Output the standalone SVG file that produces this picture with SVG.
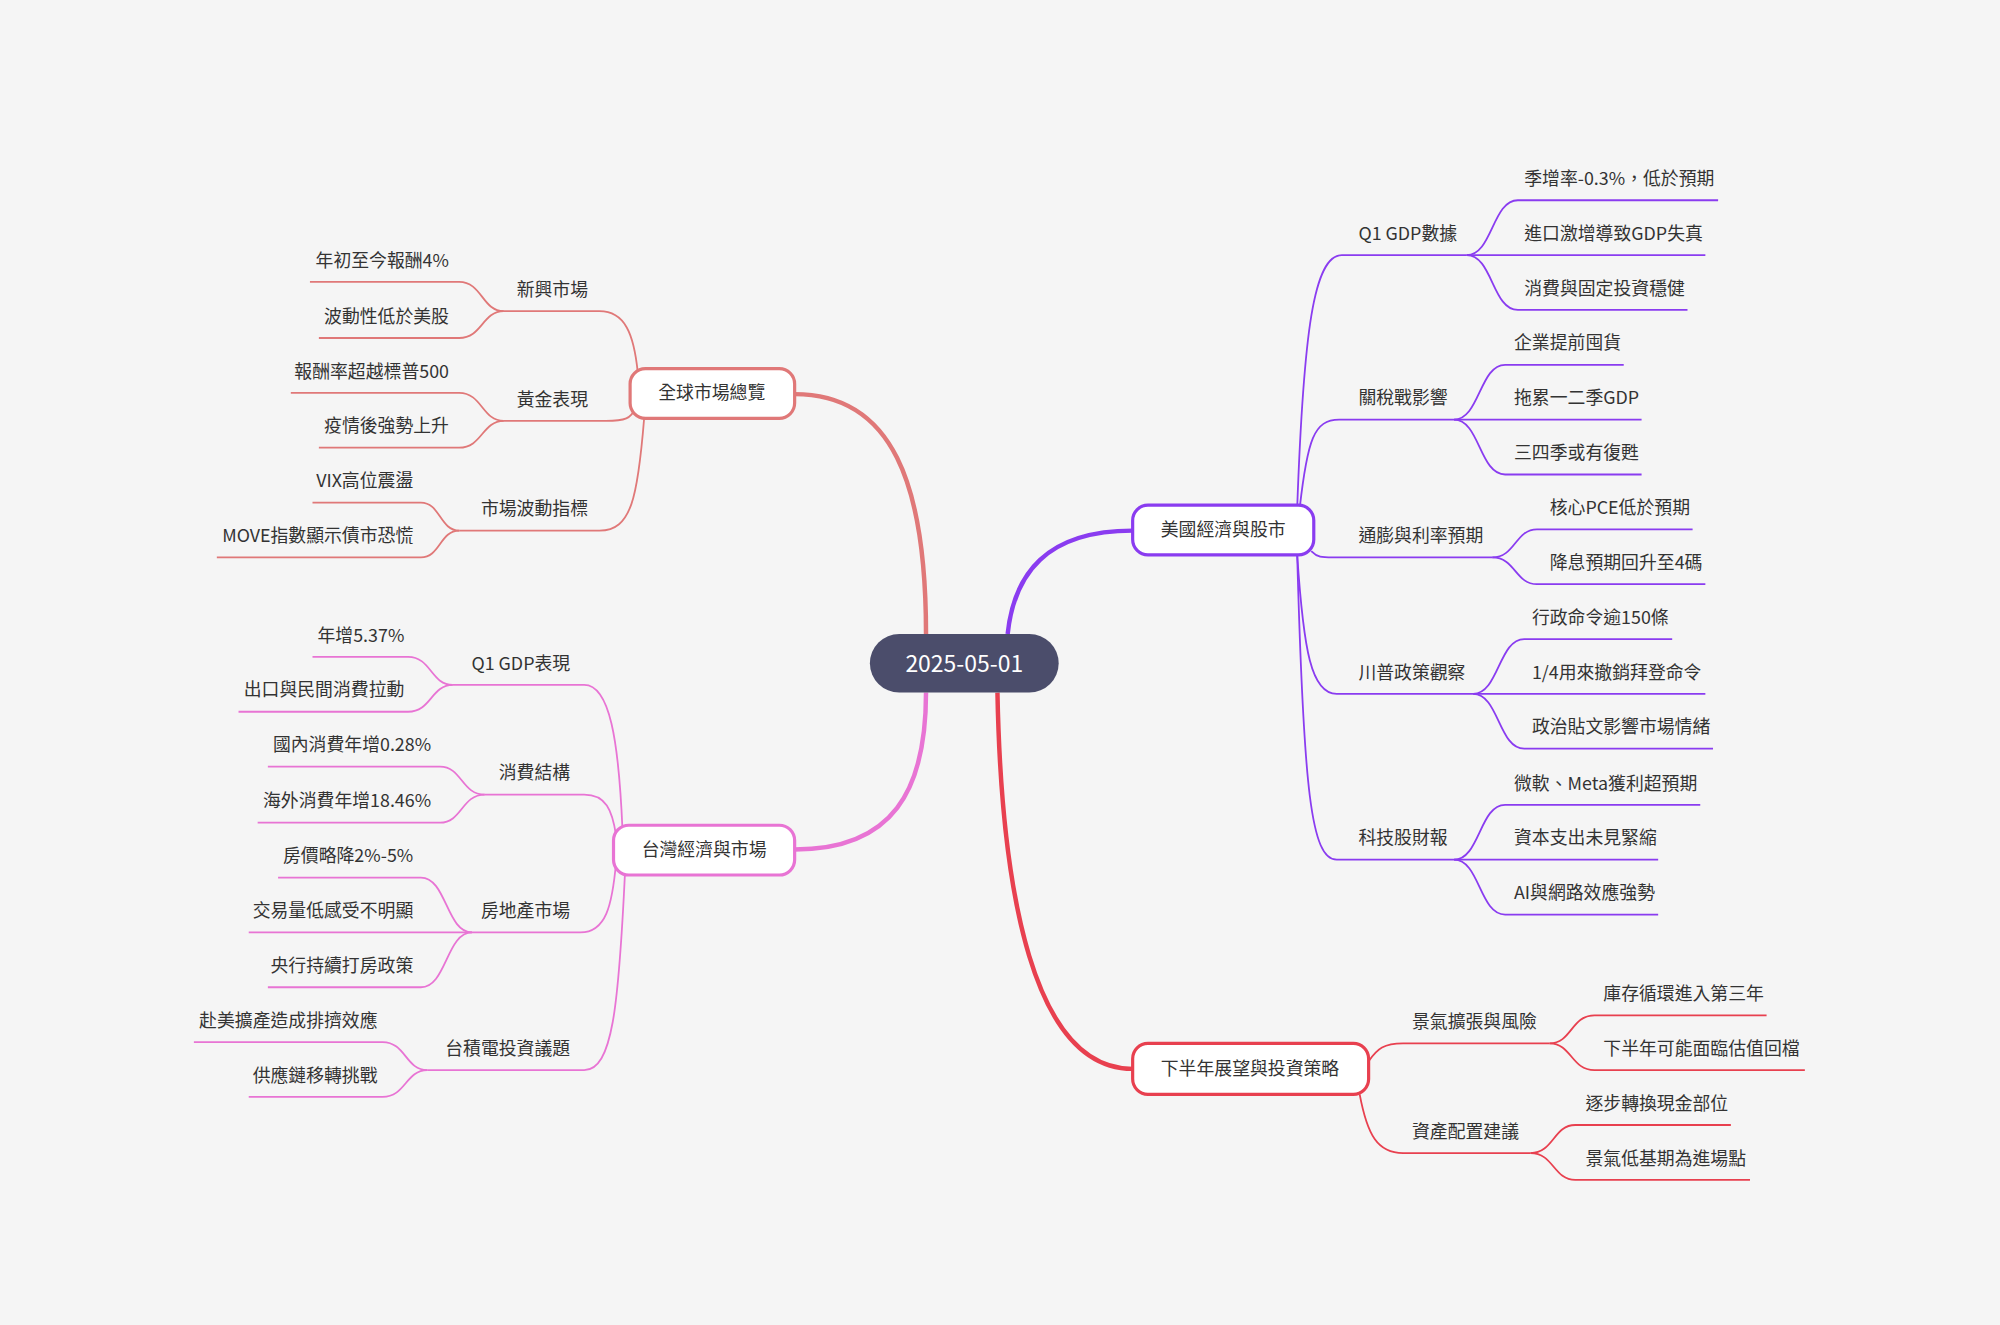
<svg xmlns="http://www.w3.org/2000/svg" width="2000" height="1325" viewBox="0 0 2000 1325">
<style>
text{font-family:"Noto Sans CJK TC","Noto Sans",sans-serif;font-size:14px;fill:#333}
.e{text-anchor:end}
.box{fill:#fff;stroke-width:2.5}
path{fill:none}
.c1{stroke:#e07878}.c2{stroke:#8a3cf0}.c3{stroke:#e874d4}.c4{stroke:#e8404f}
.m{stroke-width:3.5}.s{stroke-width:1.4}
</style>
<rect width="2000" height="1325" fill="#f5f5f5"/>
<g transform="scale(1.27551)">
<g id="connectors">
<path class="c1 m" d="M726,497 C726,380 700,309 623,309"/>
<path class="c2 m" d="M790,497 C795,450 820,416 888,416"/>
<path class="c3 m" d="M726,543 C726,620 700,666 623,666"/>
<path class="c4 m" d="M782,543 C785,700 810,838 888,838"/>
<g class="c1 s">
<path d="M500,292 C497,262 490,244 470,244 L395,244"/>
<path d="M498,320 C495,328 490,330 475,330 L395,330"/>
<path d="M505,328 C500,390 495,416 470,416 L360,416"/>
<path d="M395,244 C378,244 378,221 360,221 L243,221"/>
<path d="M395,244 C378,244 378,265 360,265 L250,265"/>
<path d="M395,330 C378,330 378,308 360,308 L228,308"/>
<path d="M395,330 C378,330 378,351 360,351 L250,351"/>
<path d="M360,416 C345,416 345,394 330,394 L245,394"/>
<path d="M360,416 C345,416 345,437 330,437 L170,437"/>
</g>
<g class="c2 s">
<path d="M1017,398 C1022,260 1030,200 1052,200 L1150,200"/>
<path d="M1019,398 C1025,345 1030,329 1050,329 L1140,329"/>
<path d="M1028,432 C1033,437 1036,437 1045,437 L1170,437"/>
<path d="M1017,435 C1022,510 1028,544 1048,544 L1155,544"/>
<path d="M1017,435 C1022,620 1028,674 1048,674 L1140,674"/>
<path d="M1150,200 C1170,200 1170,157 1190,157 L1347,157"/>
<path d="M1150,200 L1337,200"/>
<path d="M1150,200 C1170,200 1170,243 1190,243 L1323,243"/>
<path d="M1140,329 C1160,329 1160,286 1180,286 L1273,286"/>
<path d="M1140,329 L1287,329"/>
<path d="M1140,329 C1160,329 1160,372 1180,372 L1287,372"/>
<path d="M1170,437 C1188,437 1188,415 1205,415 L1327,415"/>
<path d="M1170,437 C1188,437 1188,458 1205,458 L1337,458"/>
<path d="M1155,544 C1175,544 1175,501 1195,501 L1311,501"/>
<path d="M1155,544 L1337,544"/>
<path d="M1155,544 C1175,544 1175,587 1195,587 L1343,587"/>
<path d="M1140,674 C1160,674 1160,631 1180,631 L1333,631"/>
<path d="M1140,674 L1300,674"/>
<path d="M1140,674 C1160,674 1160,717 1180,717 L1300,717"/>
</g>
<g class="c3 s">
<path d="M488,650 C485,580 478,537 458,537 L355,537"/>
<path d="M483,655 C480,635 475,623 458,623 L380,623"/>
<path d="M483,676 C480,710 475,731 455,731 L370,731"/>
<path d="M490,684 C485,790 480,839 458,839 L335,839"/>
<path d="M355,537 C338,537 338,515 320,515 L245,515"/>
<path d="M355,537 C338,537 338,558 320,558 L187,558"/>
<path d="M380,623 C362,623 362,601 345,601 L210,601"/>
<path d="M380,623 C362,623 362,645 345,645 L202,645"/>
<path d="M370,731 C350,731 350,688 330,688 L218,688"/>
<path d="M370,731 L195,731"/>
<path d="M370,731 C350,731 350,774 330,774 L210,774"/>
<path d="M335,839 C318,839 318,817 300,817 L152,817"/>
<path d="M335,839 C318,839 318,860 300,860 L195,860"/>
</g>
<g class="c4 s">
<path d="M1073,832 C1080,822 1085,818 1100,818 L1215,818"/>
<path d="M1066,858 C1072,890 1080,904 1100,904 L1200,904"/>
<path d="M1215,818 C1232,818 1232,796 1250,796 L1385,796"/>
<path d="M1215,818 C1232,818 1232,839 1250,839 L1415,839"/>
<path d="M1200,904 C1218,904 1218,882 1235,882 L1357,882"/>
<path d="M1200,904 C1218,904 1218,925 1235,925 L1372,925"/>
</g>
</g>
<g id="center"><rect x="682" y="497" width="148" height="46" rx="23" fill="#4b4d6b"/><text x="756" y="527" text-anchor="middle" style="fill:#fff;font-size:18px">2025-05-01</text></g>
<g id="n-global"><rect class="box c1" x="494" y="289" width="129" height="39" rx="12"/><text x="558" y="313" text-anchor="middle">全球市場總覽</text></g>
<g id="n-us"><rect class="box c2" x="888" y="396" width="142" height="39" rx="12"/><text x="959" y="420" text-anchor="middle">美國經濟與股市</text></g>
<g id="n-tw"><rect class="box c3" x="481" y="647" width="142" height="39" rx="12"/><text x="552" y="671" text-anchor="middle">台灣經濟與市場</text></g>
<g id="n-out"><rect class="box c4" x="888" y="818" width="185" height="40" rx="12"/><text x="980" y="843" text-anchor="middle">下半年展望與投資策略</text></g>
<g id="global-sub">
<text class="e" x="461" y="232">新興市場</text>
<text class="e" x="352" y="209">年初至今報酬4%</text>
<text class="e" x="352" y="253">波動性低於美股</text>
<text class="e" x="461" y="318">黃金表現</text>
<text class="e" x="352" y="296">報酬率超越標普500</text>
<text class="e" x="352" y="339">疫情後強勢上升</text>
<text class="e" x="461" y="404">市場波動指標</text>
<text class="e" x="324" y="382">VIX高位震盪</text>
<text class="e" x="324" y="425">MOVE指數顯示債市恐慌</text>
</g>
<g id="us-sub">
<text x="1065" y="188">Q1 GDP數據</text>
<text x="1195" y="145">季增率-0.3%，低於預期</text>
<text x="1195" y="188">進口激增導致GDP失真</text>
<text x="1195" y="231">消費與固定投資穩健</text>
<text x="1065" y="317">關稅戰影響</text>
<text x="1187" y="274">企業提前囤貨</text>
<text x="1187" y="317">拖累一二季GDP</text>
<text x="1187" y="360">三四季或有復甦</text>
<text x="1065" y="425">通膨與利率預期</text>
<text x="1215" y="403">核心PCE低於預期</text>
<text x="1215" y="446">降息預期回升至4碼</text>
<text x="1065" y="532">川普政策觀察</text>
<text x="1201" y="489">行政命令逾150條</text>
<text x="1201" y="532">1/4用來撤銷拜登命令</text>
<text x="1201" y="575">政治貼文影響市場情緒</text>
<text x="1065" y="662">科技股財報</text>
<text x="1187" y="619">微軟、Meta獲利超預期</text>
<text x="1187" y="662">資本支出未見緊縮</text>
<text x="1187" y="705">AI與網路效應強勢</text>
</g>
<g id="tw-sub">
<text class="e" x="447" y="525">Q1 GDP表現</text>
<text class="e" x="317" y="503">年增5.37%</text>
<text class="e" x="317" y="546">出口與民間消費拉動</text>
<text class="e" x="447" y="611">消費結構</text>
<text class="e" x="338" y="589">國內消費年增0.28%</text>
<text class="e" x="338" y="633">海外消費年增18.46%</text>
<text class="e" x="447" y="719">房地產市場</text>
<text class="e" x="324" y="676">房價略降2%-5%</text>
<text class="e" x="324" y="719">交易量低感受不明顯</text>
<text class="e" x="324" y="762">央行持續打房政策</text>
<text class="e" x="447" y="827">台積電投資議題</text>
<text class="e" x="296" y="805">赴美擴產造成排擠效應</text>
<text class="e" x="296" y="848">供應鏈移轉挑戰</text>
</g>
<g id="out-sub">
<text x="1107" y="806">景氣擴張與風險</text>
<text x="1257" y="784">庫存循環進入第三年</text>
<text x="1257" y="827">下半年可能面臨估值回檔</text>
<text x="1107" y="892">資產配置建議</text>
<text x="1243" y="870">逐步轉換現金部位</text>
<text x="1243" y="913">景氣低基期為進場點</text>
</g>
</g>
</svg>
